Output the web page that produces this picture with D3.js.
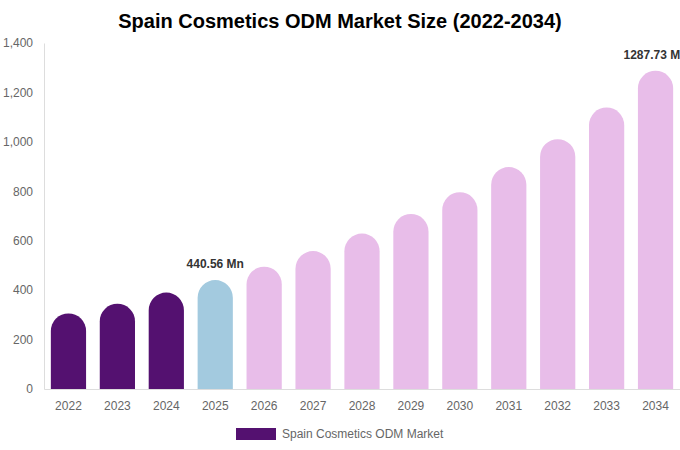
<!DOCTYPE html>
<html>
<head>
<meta charset="utf-8">
<script src="https://cdn.jsdelivr.net/npm/d3@7"></script>
<style>
  body { margin: 0; background: #fff; }
  text { font-family: "Liberation Sans", Arial, sans-serif; }
</style>
</head>
<body>
<svg id="chart" width="680" height="450"></svg>
<script>
const years = ["2022", "2023", "2024", "2025", "2026", "2027", "2028", "2029", "2030", "2031", "2032", "2033", "2034"];
const values = [306, 345, 390, 440.56, 495, 558, 629, 708, 796, 898, 1011, 1139, 1287.73];
const phase = ["hist", "hist", "hist", "base", "fcst", "fcst", "fcst", "fcst", "fcst", "fcst", "fcst", "fcst", "fcst"];
const labels = {"2025": "440.56 Mn", "2034": "1287.73 Mn"};
const yTicks = [0, 200, 400, 600, 800, 1000, 1200, 1400];

const width = 680, height = 450;
const margin = {top: 43, right: 0, bottom: 61, left: 44};
const colors = {hist: "#541170", base: "#a3cadf", fcst: "#e8bde9"};

const svg = d3.select("#chart");

const x = d3.scaleBand()
    .domain(years)
    .range([margin.left, width - margin.right])
    .paddingInner(0.28)
    .paddingOuter(0.14);

const y = d3.scaleLinear()
    .domain([0, 1400])
    .range([height - margin.bottom, margin.top]);

// title
svg.append("text")
    .attr("x", width / 2)
    .attr("y", 28)
    .attr("text-anchor", "middle")
    .attr("font-size", 20)
    .attr("font-weight", "bold")
    .attr("fill", "#000")
    .text("Spain Cosmetics ODM Market Size (2022-2034)");

// bars with round tops
const barPath = d => {
    const x0 = x(d.year), w = x.bandwidth(), r = w / 2;
    const yb = y(0), yt = y(d.value);
    return `M${x0},${yb}V${yt + r}A${r},${r} 0 0 1 ${x0 + w},${yt + r}V${yb}Z`;
};

const data = years.map((year, i) => ({year, value: values[i], phase: phase[i]}));

svg.append("g")
  .selectAll("path")
  .data(data)
  .join("path")
    .attr("d", barPath)
    .attr("fill", d => colors[d.phase]);

// axes
svg.append("g")
    .attr("transform", `translate(0,${y(0)})`)
    .call(d3.axisBottom(x).tickSize(0).tickPadding(12))
    .call(g => g.select(".domain").attr("stroke", "#ddd"))
    .call(g => g.selectAll("text").attr("fill", "#666").attr("font-size", 12)
        .attr("font-family", "Liberation Sans, Arial, sans-serif"));

svg.append("g")
    .attr("transform", `translate(${margin.left},0)`)
    .call(d3.axisLeft(y).tickValues(yTicks).tickSize(0).tickPadding(11).tickFormat(d3.format(",")))
    .call(g => g.select(".domain").attr("stroke", "#ddd"))
    .call(g => g.selectAll("text").attr("fill", "#666").attr("font-size", 12)
        .attr("font-family", "Liberation Sans, Arial, sans-serif"));

// value labels
svg.append("g")
  .selectAll("text")
  .data(data.filter(d => labels[d.year]))
  .join("text")
    .attr("x", d => x(d.year) + x.bandwidth() / 2)
    .attr("y", d => y(d.value) - 12)
    .attr("text-anchor", "middle")
    .attr("font-size", 12)
    .attr("font-weight", "bold")
    .attr("fill", "#333")
    .text(d => labels[d.year]);

// legend
const legend = svg.append("g").attr("transform", "translate(236,428)");
legend.append("rect")
    .attr("width", 40)
    .attr("height", 12)
    .attr("fill", colors.hist);
legend.append("text")
    .attr("x", 46)
    .attr("y", 10)
    .attr("font-size", 12)
    .attr("fill", "#666")
    .text("Spain Cosmetics ODM Market");
</script>
</body>
</html>
